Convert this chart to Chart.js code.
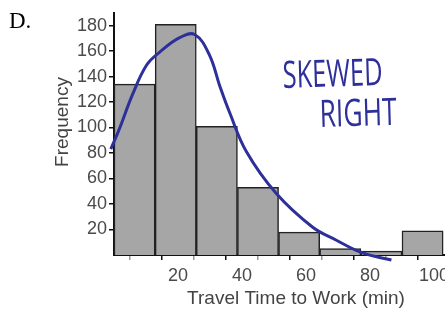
<!DOCTYPE html>
<html>
<head>
<meta charset="utf-8">
<script src="https://cdn.jsdelivr.net/npm/chart.js@4/dist/chart.umd.min.js"></script>
<style>
  html, body { margin: 0; padding: 0; background: #fff; overflow: hidden; }
  #histChart { display: block; }
</style>
</head>
<body>
<canvas id="histChart" width="460" height="313"></canvas>
<script>
// histogram bins (centre of each bin, minutes) and their counts
const binCentres = [6.43, 19.29, 32.14, 45, 57.86, 70.71, 83.57, 96.43];
const frequencies = [134, 181, 101, 53, 18, 5, 3, 19];

// hand drawn curve over the bars
const curveX = [-1, 1.7, 5.8, 10.2, 14.2, 20.5, 25.2, 29.8, 33, 36.1, 41.4, 50.8, 62, 69.5, 77.7, 86.7];
const curveY = [83, 99, 126, 149, 159, 170.5, 173, 157, 133, 112, 81, 48, 22, 11.6, 1.6, -3.9];

// ticks
const xTicks = [0, 10, 20, 30, 40, 50, 60, 70, 80, 90, 100];
const xLabelled = [20, 40, 60, 80, 100];
const yTicks = [20, 40, 60, 80, 100, 120, 140, 160, 180];

const xTitle = 'Travel Time to Work (min)';
const yTitle = 'Frequency';
const panelLabel = 'D.';
const noteLines = ['SKEWED', 'RIGHT'];

const penBlue = '#2d2f9a';

function barData() {
    const pts = [];
    for (let i = 0; i < binCentres.length; i++) {
        pts.push({ x: binCentres[i], y: frequencies[i] });
    }
    return pts;
}

function curveData() {
    const pts = [];
    for (let i = 0; i < curveX.length; i++) {
        pts.push({ x: curveX[i], y: curveY[i] });
    }
    return pts;
}

// titles, panel letter and the handwritten note
const extraText = {
    id: 'extraText',
    afterDraw(chart) {
        const ctx = chart.ctx;
        ctx.save();
        ctx.fillStyle = '#444';
        ctx.font = '19px "Liberation Sans", Arial, sans-serif';
        ctx.textAlign = 'center';
        ctx.textBaseline = 'middle';
        ctx.fillText(xTitle, 296, 299);

        ctx.save();
        ctx.translate(63, 122);
        ctx.rotate(-Math.PI / 2);
        ctx.fillText(yTitle, 0, 0);
        ctx.restore();

        ctx.fillStyle = '#000';
        ctx.font = '23px "Liberation Serif", "Times New Roman", serif';
        ctx.textAlign = 'left';
        ctx.textBaseline = 'alphabetic';
        ctx.fillText(panelLabel, 9, 28);

        // note, squeezed to look like pen lettering
        ctx.fillStyle = penBlue;
        ctx.font = '36px "Open Sans", "DejaVu Sans", sans-serif';
        const spots = [[283, 88, 100], [320, 127, 77]];
        for (let i = 0; i < noteLines.length; i++) {
            const w = ctx.measureText(noteLines[i]).width;
            ctx.save();
            ctx.translate(spots[i][0], spots[i][1]);
            ctx.rotate(-0.03);
            ctx.scale(spots[i][2] / w, 1.05);
            ctx.fillText(noteLines[i], 0, 0);
            ctx.restore();
        }
        ctx.restore();
    }
};

function xTickColour(c) {
    const v = c.tick ? c.tick.value : 0;
    return (v === 0 || xLabelled.includes(v)) ? '#111' : '#999';
}

const ctxHist = document.getElementById('histChart');

new Chart(ctxHist, {
    type: 'bar',
    data: {
        datasets: [{
            type: 'line',
            data: curveData(),
            borderColor: penBlue,
            borderWidth: 3,
            pointRadius: 0,
            tension: 0.4,
            fill: false,
            clip: false,
            order: 0
        }, {
            type: 'bar',
            data: barData(),
            backgroundColor: '#a6a6a6',
            borderColor: '#222',
            borderWidth: 1.5,
            barThickness: 'flex',
            barPercentage: 1,
            categoryPercentage: 1,
            order: 1
        }]
    },
    options: {
        responsive: false,
        animation: false,
        layout: { padding: { left: 0, right: 10, top: 10, bottom: 0 } },
        plugins: {
            legend: { display: false },
            tooltip: { enabled: false }
        },
        scales: {
            x: {
                type: 'linear',
                min: 0,
                max: 105,
                offset: false,
                afterBuildTicks: function(scale) {
                    scale.ticks = xTicks.map(v => ({ value: v }));
                },
                afterFit: function(scale) { scale.height = 58; },
                border: { color: '#111', width: 2 },
                grid: { drawOnChartArea: false, drawTicks: true, tickLength: 5, color: xTickColour, lineWidth: 1.5 },
                ticks: {
                    autoSkip: false,
                    maxRotation: 0,
                    padding: 5,
                    color: '#4a4a4a',
                    font: { family: '"Liberation Sans", Arial, sans-serif', size: 18 },
                    callback: function(v) { return xLabelled.includes(v) ? String(v) : ''; }
                }
            },
            y: {
                min: 0,
                max: 190,
                afterBuildTicks: function(scale) {
                    scale.ticks = yTicks.map(v => ({ value: v }));
                },
                afterFit: function(scale) { scale.width = 114; },
                border: { color: '#111', width: 2 },
                grid: { drawOnChartArea: false, drawTicks: true, tickLength: 5, color: '#111', lineWidth: 1.5 },
                ticks: {
                    autoSkip: false,
                    padding: 2,
                    color: '#4a4a4a',
                    font: { family: '"Liberation Sans", Arial, sans-serif', size: 18 }
                }
            }
        }
    },
    plugins: [extraText]
});
</script>
</body>
</html>
